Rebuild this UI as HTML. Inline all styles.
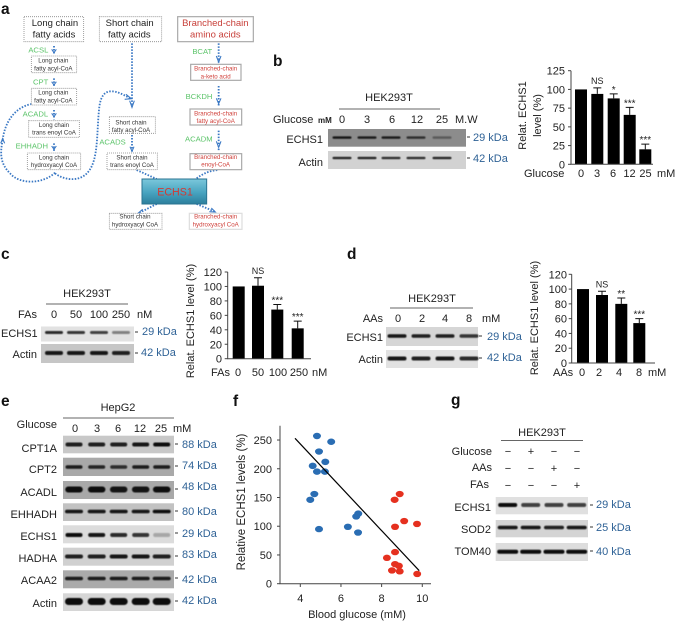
<!DOCTYPE html>
<html lang="en">
<head>
<meta charset="utf-8">
<title>ECHS1 figure</title>
<style>
html,body{margin:0;padding:0;background:#fff;width:675px;height:621px;overflow:hidden}
svg{display:block;filter:blur(0.3px)}
text{font-family:"Liberation Sans",sans-serif;font-size:11px;fill:#222}
.pl{font-weight:bold;font-size:15.5px;fill:#111}
.kda{fill:#2f6296}
.r{text-anchor:end}
.m{text-anchor:middle}
.big{font-size:28.5px}
.sm{font-size:18.5px;fill:#333;text-anchor:middle}
.smr{font-size:18.5px;fill:#d0423c;text-anchor:middle}
.gr{font-size:23px;fill:#5cc46a}
.bx{fill:#fff;stroke:#888;stroke-width:2.4;stroke-dasharray:3 3}
.bxr{fill:#fff;stroke:#aaa;stroke-width:3.6}
.flow{fill:none;stroke:#3a78c4;stroke-width:5.5;stroke-dasharray:4.5 4.5}
.head{fill:none;stroke:#3a78c4;stroke-width:3.2}
.hr{stroke:#666;stroke-width:1}
</style>
</head>
<body>
<svg id="fig" xmlns="http://www.w3.org/2000/svg" width="675" height="621" viewBox="0 0 675 621">
<defs>
<filter id="soft" x="-30%" y="-100%" width="160%" height="300%"><feGaussianBlur stdDeviation="0.55"/></filter>
<linearGradient id="echsGrad" x1="0" y1="0" x2="0" y2="1">
<stop offset="0" stop-color="#7cc8dc"/><stop offset="0.55" stop-color="#47a3bf"/><stop offset="1" stop-color="#2c7f9d"/>
</linearGradient>
</defs>

<text class="pl" x="1" y="14">a</text>
<text class="pl" x="273" y="66">b</text>
<text class="pl" x="1" y="259">c</text>
<text class="pl" x="347" y="259">d</text>
<text class="pl" x="1" y="406">e</text>
<text class="pl" x="233" y="406">f</text>
<text class="pl" x="451" y="405">g</text>

<!-- Panel a -->
<g transform="scale(0.33333)">
<path class="flow" d="M162,138V165"/>
<path class="flow" d="M162,235V262"/>
<path class="flow" d="M162,330V358"/>
<path class="flow" d="M162,430V456"/>
<path class="flow" d="M396,130V320"/>
<path class="flow" d="M396,405V455"/>
<path class="flow" d="M656,130V188"/>
<path class="flow" d="M656,258V320"/>
<path class="flow" d="M656,392V455"/>
<path class="flow" d="M410,510L470,537"/>
<path class="flow" d="M590,535Q620,512 655,510"/>
<path class="flow" d="M470,612L415,640"/>
<path class="flow" d="M590,612L645,635"/>
<path class="flow" d="M165,518C130,552 60,555 30,520C0,490 0,460 8,420"/>
<path class="flow" d="M95,312C50,320 15,360 8,420"/>
<path class="flow" d="M165,520C190,540 240,548 265,515C295,480 290,400 297,330C302,268 330,258 393,297"/>
<path class="head" d="M155,148l7,10l7,-10M155,245l7,10l7,-10M155,340l7,10l7,-10M155,438l7,10l7,-10M389,302l7,20l7,-20M390,440l6,14l6,-14M649,168l7,18l7,-18M649,295l7,16l7,-16M649,424l7,18l7,-18M378,283l16,13l-20,2M2,430l6,-14l6,14M428,628l-14,12l20,2M628,635l18,1l-12,-12"/>

<rect class="bx" x="72" y="50" width="179" height="75"/>
<text class="big m" x="165" y="78">Long chain</text>
<text class="big m" x="162" y="112">fatty acids</text>
<rect class="bx" x="298" y="50" width="187" height="75"/>
<text class="big m" x="389" y="78">Short chain</text>
<text class="big m" x="388" y="112">fatty acids</text>
<rect class="bxr" x="533" y="50" width="227" height="75"/>
<text class="big m" x="646" y="78" style="fill:#c8403a">Branched-chain</text>
<text class="big m" x="646" y="112" style="fill:#c8403a">amino acids</text>

<rect class="bx" x="94" y="168" width="136" height="50"/>
<text class="sm" x="160" y="188">Long chain</text>
<text class="sm" x="160" y="211">fatty acyl-CoA</text>
<rect class="bx" x="94" y="265" width="136" height="50"/>
<text class="sm" x="160" y="284">Long chain</text>
<text class="sm" x="160" y="307">fatty acyl-CoA</text>
<rect class="bx" x="86" y="362" width="152" height="50"/>
<text class="sm" x="162" y="381">Long chain</text>
<text class="sm" x="162" y="404">trans enoyl CoA</text>
<rect class="bx" x="82" y="459" width="160" height="50"/>
<text class="sm" x="162" y="478">Long chain</text>
<text class="sm" x="162" y="501">hydroxyacyl CoA</text>
<rect class="bx" x="328" y="350" width="138" height="50"/>
<text class="sm" x="393" y="373">Short chain</text>
<text class="sm" x="393" y="396">fatty acyl-CoA</text>
<rect class="bx" x="321" y="459" width="151" height="50"/>
<text class="sm" x="396" y="478">Short chain</text>
<text class="sm" x="396" y="501">trans enoyl CoA</text>
<rect class="bx" x="328" y="640" width="158" height="48"/>
<text class="sm" x="405" y="656">Short chain</text>
<text class="sm" x="405" y="680">hydroxyacyl CoA</text>

<rect class="bxr" x="572" y="193" width="151" height="48"/>
<text class="smr" x="647" y="212">Branched-chain</text>
<text class="smr" x="647" y="235">a-keto acid</text>
<rect class="bxr" x="570" y="327" width="155" height="48"/>
<text class="smr" x="647" y="346">Branched-chain</text>
<text class="smr" x="647" y="369">fatty acyl-CoA</text>
<rect class="bxr" x="570" y="461" width="155" height="48"/>
<text class="smr" x="647" y="477">Branched-chain</text>
<text class="smr" x="647" y="500">enoyl-CoA</text>
<rect class="bxr" x="568" y="640" width="158" height="48" style="stroke:#ddd"/>
<text class="smr" x="647" y="656">Branched-chain</text>
<text class="smr" x="647" y="680">hydroxyacyl CoA</text>

<rect x="426" y="537" width="194" height="75" fill="url(#echsGrad)" stroke="#2a7492" stroke-width="3"/>
<text class="m" x="525" y="587" style="font-size:32px;fill:#d23a34">ECHS1</text>

<text class="gr" x="85" y="157">ACSL</text>
<text class="gr" x="99" y="254">CPT</text>
<text class="gr" x="68" y="350">ACADL</text>
<text class="gr" x="47" y="446">EHHADH</text>
<text class="gr" x="298" y="434">ACADS</text>
<text class="gr" x="577" y="162">BCAT</text>
<text class="gr" x="557" y="297">BCKDH</text>
<text class="gr" x="555" y="425">ACADM</text>
</g>

<!-- Panel b labels -->
<text class="m" x="389" y="101">HEK293T</text>
<line class="hr" x1="339" y1="109" x2="440" y2="109"/>
<text x="273" y="123">Glucose</text>
<text x="318" y="123" style="font-size:8px;font-weight:bold">mM</text>
<text class="m" x="342" y="123">0</text>
<text class="m" x="367" y="123">3</text>
<text class="m" x="392" y="123">6</text>
<text class="m" x="417" y="123">12</text>
<text class="m" x="442" y="123">25</text>
<text x="455" y="123">M.W</text>
<text class="r" x="323" y="143">ECHS1</text>
<text class="r" x="323" y="166">Actin</text>
<text class="kda" x="473" y="141">29 kDa</text>
<text class="kda" x="473" y="162">42 kDa</text>
<text x="524" y="177">Glucose</text>
<text x="657" y="177">mM</text>
<text class="m" transform="translate(526,115.5) rotate(-90)">Relat. ECHS1</text>
<text class="m" transform="translate(541,115.5) rotate(-90)">level (%)</text>

<!-- Panel c labels -->
<text class="m" x="87" y="297">HEK293T</text>
<line class="hr" x1="46" y1="304" x2="128" y2="304"/>
<text class="r" x="37" y="318">FAs</text>
<text class="m" x="54" y="318">0</text>
<text class="m" x="76" y="318">50</text>
<text class="m" x="99" y="318">100</text>
<text class="m" x="121" y="318">250</text>
<text x="137" y="318">nM</text>
<text x="1" y="337">ECHS1</text>
<text class="r" x="37" y="358">Actin</text>
<text class="kda" x="142" y="335">29 kDa</text>
<text class="kda" x="141" y="356">42 kDa</text>
<text x="211" y="376">FAs</text>
<text x="312" y="376">nM</text>
<text class="m" transform="translate(194,321) rotate(-90)">Relat. ECHS1 level (%)</text>

<!-- Panel d labels -->
<text class="m" x="432" y="302">HEK293T</text>
<line class="hr" x1="390" y1="308" x2="473" y2="308"/>
<text class="r" x="383" y="322">AAs</text>
<text class="m" x="398" y="322">0</text>
<text class="m" x="422" y="322">2</text>
<text class="m" x="445" y="322">4</text>
<text class="m" x="469" y="322">8</text>
<text x="482" y="322">mM</text>
<text class="r" x="383" y="341">ECHS1</text>
<text class="r" x="383" y="363">Actin</text>
<text class="kda" x="487" y="340">29 kDa</text>
<text class="kda" x="487" y="361">42 kDa</text>
<text x="553" y="376">AAs</text>
<text x="648" y="376">mM</text>
<text class="m" transform="translate(538,318) rotate(-90)">Relat. ECHS1 level (%)</text>

<!-- Panel e labels -->
<text class="m" x="118" y="411">HepG2</text>
<line class="hr" x1="63" y1="418" x2="174" y2="418"/>
<text class="r" x="57" y="428">Glucose</text>
<text class="m" x="75" y="432">0</text>
<text class="m" x="97" y="432">3</text>
<text class="m" x="118" y="432">6</text>
<text class="m" x="140" y="432">12</text>
<text class="m" x="161" y="432">25</text>
<text x="173" y="432">mM</text>
<text class="r" x="57" y="452">CPT1A</text>
<text class="r" x="57" y="473">CPT2</text>
<text class="r" x="57" y="496">ACADL</text>
<text class="r" x="57" y="518">EHHADH</text>
<text class="r" x="57" y="540">ECHS1</text>
<text class="r" x="57" y="562">HADHA</text>
<text class="r" x="57" y="584">ACAA2</text>
<text class="r" x="57" y="607">Actin</text>
<text class="kda" x="182" y="448">88 kDa</text>
<text class="kda" x="182" y="469">74 kDa</text>
<text class="kda" x="182" y="490">48 kDa</text>
<text class="kda" x="182" y="515">80 kDa</text>
<text class="kda" x="182" y="537">29 kDa</text>
<text class="kda" x="182" y="558">83 kDa</text>
<text class="kda" x="182" y="583">42 kDa</text>
<text class="kda" x="182" y="604">42 kDa</text>

<!-- Panel f labels -->
<text class="m" transform="translate(245,502) rotate(-90)" style="font-size:11.5px">Relative ECHS1 levels (%)</text>
<text class="m" x="357" y="618">Blood glucose (mM)</text>

<!-- Panel g labels -->
<text class="m" x="542" y="436">HEK293T</text>
<line class="hr" x1="501" y1="440.5" x2="583" y2="440.5"/>
<text class="r" x="492" y="455">Glucose</text>
<text class="r" x="492" y="471">AAs</text>
<text class="r" x="489" y="488">FAs</text>
<text class="m" x="508" y="455">−</text>
<text class="m" x="531" y="455">+</text>
<text class="m" x="554" y="455">−</text>
<text class="m" x="577" y="455">−</text>
<text class="m" x="508" y="472">−</text>
<text class="m" x="531" y="472">−</text>
<text class="m" x="554" y="472">+</text>
<text class="m" x="577" y="472">−</text>
<text class="m" x="508" y="489">−</text>
<text class="m" x="531" y="489">−</text>
<text class="m" x="554" y="489">−</text>
<text class="m" x="577" y="489">+</text>
<text class="r" x="491" y="511">ECHS1</text>
<text class="r" x="491" y="533">SOD2</text>
<text class="r" x="491" y="555">TOM40</text>
<text class="kda" x="596" y="508">29 kDa</text>
<text class="kda" x="596" y="531">25 kDa</text>
<text class="kda" x="596" y="555">40 kDa</text>
</svg>

<script>
// Bar chart data
var glucoseDoses = ['0', '3', '6', '12', '25'];
var glucoseLevels = [100, 94, 88, 66, 20];
var glucoseErrors = [0, 8, 6, 10, 7];
var glucoseMarks = ['', 'NS', '*', '***', '***'];
var glucoseTicks = [0, 25, 50, 75, 100, 125];

var fattyDoses = ['0', '50', '100', '250'];
var fattyLevels = [100, 101, 68, 42];
var fattyErrors = [0, 11, 7, 10];
var fattyMarks = ['', 'NS', '***', '***'];
var fattyTicks = [0, 20, 40, 60, 80, 100, 120];

var aminoDoses = ['0', '2', '4', '8'];
var aminoLevels = [100, 92, 80, 54];
var aminoErrors = [0, 5, 8, 6];
var aminoMarks = ['', 'NS', '**', '***'];
var aminoTicks = [0, 20, 40, 60, 80, 100, 120];

// Scatter data
var lowGlucoseX = [4.82, 5.52, 4.92, 5.23, 4.61, 4.82, 5.21, 4.69, 4.49, 6.85, 6.75, 6.34, 6.84, 4.92];
var lowGlucoseY = [257, 247, 230, 212, 205, 195, 195, 156, 146, 122, 117, 99, 89, 95];
var highGlucoseX = [8.89, 8.64, 9.11, 9.74, 8.66, 8.66, 8.26, 8.66, 8.85, 8.51, 8.89, 9.75];
var highGlucoseY = [156, 146, 109, 104, 99, 55, 45, 34, 31, 23, 21.5, 17];
var trendX = [3.74, 9.85];
var trendY = [253, 22.6];
var scatterXTicks = [4, 6, 8, 10];
var scatterYTicks = [0, 50, 100, 150, 200, 250];

// Band strengths per blot lane
var bEchs1 = [0.95, 0.9, 0.9, 0.75, 0.4, 0];
var bActin = [0.9, 0.9, 0.85, 0.85, 0.9, 0];
var cEchs1 = [0.85, 0.8, 0.75, 0.45];
var cActin = [0.95, 0.95, 0.95, 0.9];
var dEchs1 = [0.95, 0.9, 0.9, 0.8];
var dActin = [0.95, 0.9, 0.95, 0.85];
var eCpt1a = [0.9, 0.9, 0.9, 0.95, 1];
var eCpt2 = [0.9, 0.85, 0.8, 0.9, 0.9];
var eAcadl = [1, 1, 0.95, 0.95, 1];
var eEhhadh = [0.95, 0.95, 0.95, 0.95, 1];
var eEchs1 = [1, 0.95, 0.85, 0.8, 0.25];
var eHadha = [0.9, 0.9, 0.95, 0.95, 0.9];
var eAcaa2 = [0.9, 0.9, 0.9, 0.9, 0.9];
var eActin = [1, 1, 1, 1, 1];
var gEchs1 = [1, 0.75, 0.75, 0.75];
var gSod2 = [0.95, 0.95, 0.9, 0.95];
var gTom40 = [1, 1, 1, 1];

var NS = 'http://www.w3.org/2000/svg';
var fig = document.getElementById('fig');

function mk(tag, attrs, txt) {
  var el = document.createElementNS(NS, tag);
  for (var k in attrs) el.setAttribute(k, attrs[k]);
  if (txt !== undefined) el.textContent = txt;
  fig.appendChild(el);
  return el;
}

function barChart(name, ax, y0, yTop, maxV, xEnd, centers, labelX, labelY, tickX, barW, doses, levels, errors, marks, ticks) {
  function sy(v) { return y0 - (v / maxV) * (y0 - yTop); }
  levels.forEach(function (v, i) {
    var bar = mk('rect', {x: centers[i] - barW / 2, y: sy(v), width: barW, height: y0 - sy(v), fill: '#000'});
    
    
    if (errors[i] > 0) {
      var top = sy(v + errors[i]);
      var err = mk('path', {d: 'M' + centers[i] + ',' + sy(v) + 'V' + top + 'M' + (centers[i] - 4) + ',' + top + 'H' + (centers[i] + 4), stroke: '#111', fill: 'none', 'stroke-width': 1});
      
      
    }
    if (marks[i]) {
      var isNs = marks[i] === 'NS';
      var mark = mk('text', {x: centers[i], y: sy(v + errors[i]) + (isNs ? -4 : -1), 'text-anchor': 'middle', style: 'font-size:' + (isNs ? 9 : 10) + 'px'}, marks[i]);
      
      
    }
    var lab = mk('text', {x: labelX[i], y: labelY, 'text-anchor': 'middle'}, doses[i]);
    
    
  });
  var axis = mk('path', {d: 'M' + ax + ',' + yTop + 'V' + y0 + 'H' + xEnd, stroke: '#444', fill: 'none', 'stroke-width': 1});
  
  
  ticks.forEach(function (t) {
    var tk = mk('line', {x1: ax - 3, x2: ax, y1: sy(t), y2: sy(t), stroke: '#444', 'stroke-width': 1});
    
    
    var tl = mk('text', {x: tickX, y: sy(t) + 4, 'text-anchor': 'end'}, String(t));
    
    
  });
}

function blot(name, x, y, w, h, bg, lanes, bandY, bandW, bandH, strengths, tickX, tickY) {
  var base = mk('rect', {x: x, y: y, width: w, height: h, fill: bg});
  
  
  strengths.forEach(function (s, i) {
    if (s <= 0) return;
    var band = mk('rect', {x: lanes[i] - bandW / 2, y: bandY - bandH / 2, width: bandW, height: bandH, rx: bandH / 2, fill: '#0c0c0c', opacity: s, filter: 'url(#soft)'});
    
    
  });
  var tick = mk('line', {x1: tickX, x2: tickX + 3, y1: tickY, y2: tickY, stroke: '#333', 'stroke-width': 1});
  
  
}

barChart('glucose-chart', 571, 164.3, 70.7, 125, 653, [581, 597.3, 613.7, 629.7, 645.3], [581, 597, 613, 629.5, 645.5], 177, 565, 12, glucoseDoses, glucoseLevels, glucoseErrors, glucoseMarks, glucoseTicks);
barChart('fatty-acid-chart', 227.7, 358.7, 272, 120, 311, [238.7, 258, 277.3, 297.7], [238, 258, 278, 299], 376, 222, 12, fattyDoses, fattyLevels, fattyErrors, fattyMarks, fattyTicks);
barChart('amino-acid-chart', 571.7, 363, 274.3, 120, 655, [583, 602, 621.3, 639.3], [582, 599, 619, 639], 376, 567, 12, aminoDoses, aminoLevels, aminoErrors, aminoMarks, aminoTicks);

var bLanes = [342, 367, 391, 416, 442, 456];
blot('b-echs1', 328, 129, 138, 17.7, '#8c8c8c', bLanes, 137.6, 19, 2.4, bEchs1, 467, 137);
blot('b-actin', 328, 151, 138, 18, '#d2d2d2', bLanes, 158, 19, 2.2, bActin, 467, 158);

var cLanes = [54, 76, 99, 121];
blot('c-echs1', 41, 326.5, 93, 15, '#e2e2e2', cLanes, 332.5, 18, 3, cEchs1, 135, 332);
blot('c-actin', 41, 344, 93, 19, '#c6c6c6', cLanes, 353, 18, 4, cActin, 135, 353);

var dLanes = [397, 421, 445, 469];
blot('d-echs1', 386, 327, 92, 19, '#d6d6d6', dLanes, 336, 19, 3.5, dEchs1, 479, 336);
blot('d-actin', 386, 350, 92, 18, '#e2e2e2', dLanes, 358.5, 19, 4, dActin, 479, 358);

var eLanes = [74, 96.7, 118.7, 140.7, 161.7];
blot('e-cpt1a', 63, 435.7, 111, 17.6, '#c8c8c8', eLanes, 444.5, 17, 4, eCpt1a, 175, 444);
blot('e-cpt2', 63, 457.7, 111, 18.3, '#a9a9a9', eLanes, 467, 17, 3.5, eCpt2, 175, 466);
blot('e-acadl', 63, 481, 111, 18, '#a8a8a8', eLanes, 489.5, 17.5, 6, eAcadl, 175, 489);
blot('e-ehhadh', 63, 503.3, 111, 17.7, '#c2c2c2', eLanes, 511.5, 18, 3.6, eEhhadh, 175, 511);
blot('e-echs1', 63, 525.3, 111, 18, '#dcdcdc', eLanes, 535, 17, 4, eEchs1, 175, 533);
blot('e-hadha', 63, 547.7, 111, 18, '#d0d0d0', eLanes, 556.5, 18, 4, eHadha, 175, 556);
blot('e-acaa2', 63, 570.3, 111, 18, '#aaaaaa', eLanes, 578.5, 18, 3.6, eAcaa2, 175, 578);
blot('e-actin', 63, 593.3, 111, 17.7, '#d6d6d6', eLanes, 601.5, 18, 7, eActin, 175, 601);

var gLanes = [507.7, 530.7, 554, 576.7];
blot('g-echs1', 495.7, 497, 92.3, 17.3, '#e0e0e0', gLanes, 505, 19, 4, gEchs1, 590, 505);
blot('g-sod2', 495.7, 520, 92.3, 17.3, '#d4d4d4', gLanes, 527.5, 20, 3.6, gSod2, 590, 527);
blot('g-tom40', 495.7, 543, 92.3, 18, '#dddddd', gLanes, 551.7, 21, 4, gTom40, 590, 551);

// Scatter plot
function fx(v) { return 300.3 + (v - 4) * 20.33; }
function fy(v) { return 583.7 - v * 0.5747; }

var fAxis = mk('path', {d: 'M280,425.7V583.7H431', stroke: '#444', fill: 'none', 'stroke-width': 1});



scatterXTicks.forEach(function (t) {
  var tk = mk('line', {x1: fx(t), x2: fx(t), y1: 583.7, y2: 587, stroke: '#444', 'stroke-width': 1});
  
  
  var tl = mk('text', {x: fx(t), y: 602, 'text-anchor': 'middle'}, String(t));
  
  
});
scatterYTicks.forEach(function (t) {
  var tk = mk('line', {x1: 277, x2: 280, y1: fy(t), y2: fy(t), stroke: '#444', 'stroke-width': 1});
  
  
  var tl = mk('text', {x: 272, y: fy(t) + 4, 'text-anchor': 'end'}, String(t));
  
  
});
lowGlucoseX.forEach(function (v, i) {
  var p = mk('ellipse', {cx: fx(v), cy: fy(lowGlucoseY[i]), rx: 4, ry: 3.2, fill: '#2a6db3'});
  
  
});
highGlucoseX.forEach(function (v, i) {
  var p = mk('ellipse', {cx: fx(v), cy: fy(highGlucoseY[i]), rx: 4, ry: 3.2, fill: '#e5301f'});
  
  
});
var trend = mk('line', {x1: fx(trendX[0]), y1: fy(trendY[0]), x2: fx(trendX[1]), y2: fy(trendY[1]), stroke: '#000', 'stroke-width': 1.2});


</script>
</body>
</html>
